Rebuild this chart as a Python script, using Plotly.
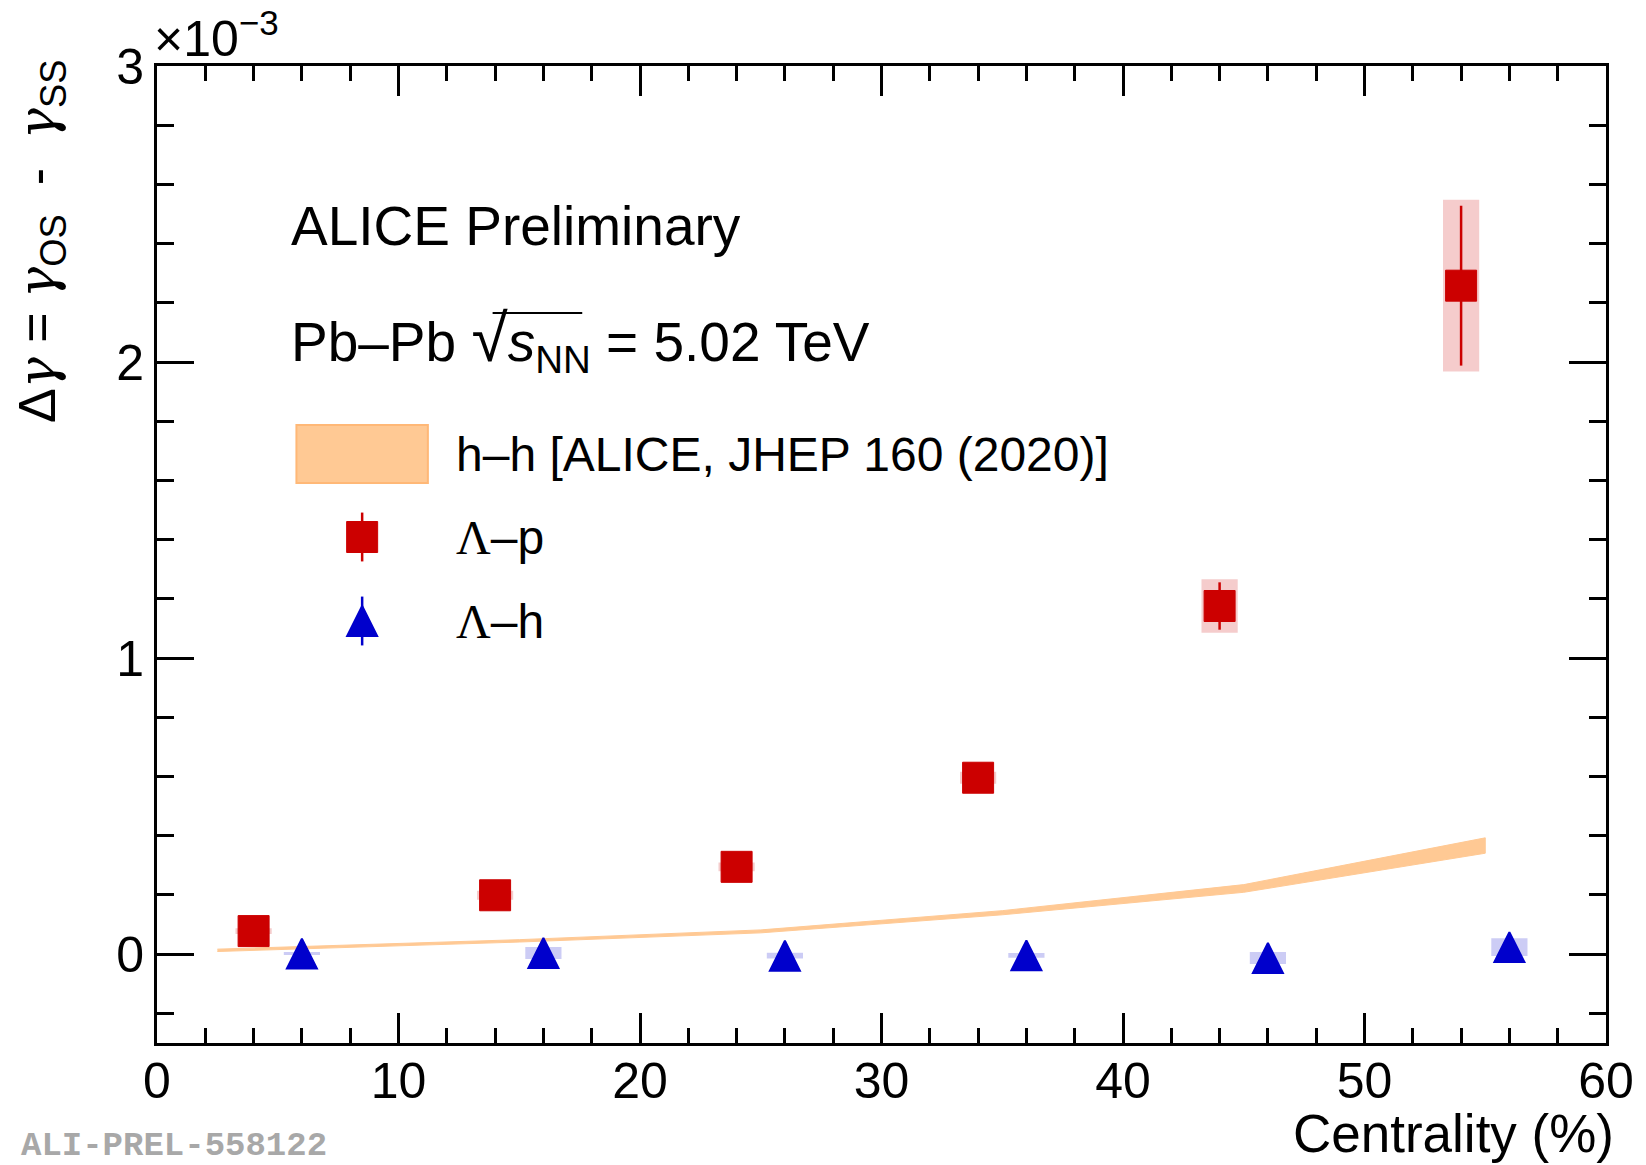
import plotly.graph_objects as go

# ---------------- data (values in units of 1e-3) ----------------
cent_hh = [2.5, 7.5, 15, 25, 35, 45, 55]
dg_hh = [0.013, 0.025, 0.045, 0.077, 0.140, 0.222, 0.367]
dg_hh_err = [0.004, 0.004, 0.004, 0.005, 0.007, 0.013, 0.026]

cent_lp = [4, 14, 24, 34, 44, 54]
dg_lp = [0.078, 0.199, 0.295, 0.596, 1.176, 2.258]
dg_lp_stat = [0.01, 0.015, 0.02, 0.03, 0.08, 0.27]
dg_lp_sys = [0.01, 0.015, 0.015, 0.02, 0.09, 0.29]

cent_lh = [6, 16, 26, 36, 46, 56]
dg_lh = [0.002, 0.004, -0.005, -0.004, -0.013, 0.024]
dg_lh_stat = [0.005, 0.005, 0.005, 0.005, 0.005, 0.006]
dg_lh_sys = [0.005, 0.02, 0.01, 0.008, 0.02, 0.03]

sys_halfwidth = 0.75

x_ticks = [0, 10, 20, 30, 40, 50, 60]
y_ticks = [0, 1, 2, 3]

# ---------------- layout geometry ----------------
W, H = 1646, 1165
L, R, T, B = 157, 1612, 66, 1043


def px(p):
    return (p - L) / (R - L)


def py(p):
    return (B - p) / (B - T)


RED = "#CC0000"
BLUE = "#0000CC"
ORANGE = "#FFC994"
FONT = "Liberation Sans"
SERIF = "DejaVu Serif"

TRI = dict(symbol="arrow-down", angle=180, standoff=15, size=30, color=BLUE,
           line=dict(color=BLUE, width=2))
SQ = dict(symbol="square", size=31, color=RED, line=dict(color=RED, width=1))

fig = go.Figure()

# h-h band
upper = [v + e for v, e in zip(dg_hh, dg_hh_err)]
lower = [v - e for v, e in zip(dg_hh, dg_hh_err)]
fig.add_trace(go.Scatter(x=cent_hh + cent_hh[::-1], y=upper + lower[::-1],
                         fill="toself", fillcolor=ORANGE, mode="lines",
                         line=dict(color=ORANGE, width=1), hoverinfo="skip",
                         showlegend=False))

# systematic boxes
fig.add_trace(go.Bar(x=cent_lp, y=[2 * s for s in dg_lp_sys],
                     base=[v - s for v, s in zip(dg_lp, dg_lp_sys)],
                     width=2 * sys_halfwidth, marker=dict(color="rgba(204,0,0,0.2)", line=dict(width=0)),
                     showlegend=False, hoverinfo="skip"))
fig.add_trace(go.Bar(x=cent_lh, y=[2 * s for s in dg_lh_sys],
                     base=[v - s for v, s in zip(dg_lh, dg_lh_sys)],
                     width=2 * sys_halfwidth, marker=dict(color="rgba(0,0,204,0.2)", line=dict(width=0)),
                     showlegend=False, hoverinfo="skip"))

# points
fig.add_trace(go.Scatter(x=cent_lp, y=dg_lp, mode="markers", marker=SQ,
                         error_y=dict(type="data", array=dg_lp_stat, color=RED, thickness=2.5, width=0),
                         showlegend=False))
fig.add_trace(go.Scatter(x=cent_lh, y=dg_lh, mode="markers", marker=TRI,
                         error_y=dict(type="data", array=dg_lh_stat, color=BLUE, thickness=2.5, width=0),
                         showlegend=False))

# legend markers on an overlay axis (0..1 = plot area)
fig.add_trace(go.Scatter(x=[px(363)], y=[py(537)], xaxis="x2", yaxis="y2", mode="markers", marker=SQ,
                         error_y=dict(type="constant", value=0.025, color=RED, thickness=2.5, width=0),
                         showlegend=False, hoverinfo="skip"))
fig.add_trace(go.Scatter(x=[px(363)], y=[py(621)], xaxis="x2", yaxis="y2", mode="markers", marker=TRI,
                         error_y=dict(type="constant", value=0.025, color=BLUE, thickness=2.5, width=0),
                         showlegend=False, hoverinfo="skip"))

axis_common = dict(showline=True, linecolor="black", linewidth=3, mirror="ticks",
                   ticks="inside", tickcolor="black", tickwidth=3,
                   showgrid=False, zeroline=False,
                   tickfont=dict(family=FONT, size=50, color="black"))

fig.update_layout(
    width=W, height=H,
    margin=dict(l=L, r=W - R, t=T, b=H - B),
    paper_bgcolor="white", plot_bgcolor="white",
    barmode="overlay", showlegend=False,
    xaxis=dict(range=[0, 60], tickvals=x_ticks, ticklen=30, ticklabelstandoff=-8,
               minor=dict(dtick=2, ticklen=15, tickwidth=3, tickcolor="black", ticks="inside"),
               **axis_common),
    yaxis=dict(range=[-0.3, 3], tickvals=y_ticks, ticklen=37,
               minor=dict(dtick=0.2, ticklen=17, tickwidth=3, tickcolor="black", ticks="inside"),
               **axis_common),
    xaxis2=dict(range=[0, 1], overlaying="x", visible=False),
    yaxis2=dict(range=[0, 1], overlaying="y", visible=False),
)

# legend band box
fig.add_shape(type="rect", xref="paper", yref="paper",
              x0=px(297), x1=px(429), y0=py(483), y1=py(425),
              fillcolor=ORANGE, line=dict(color="#FFB877", width=2))

G = '<span style="font-family:%s"><i>γ</i></span>' % SERIF
LAM = '<span style="font-family:Liberation Serif">Λ</span>'
SP = "&nbsp;"

ann = []
ann.append(dict(text="ALICE Preliminary", x=px(290), y=py(226), xanchor="left", yanchor="middle",
                font=dict(family=FONT, size=55, color="black")))
ann.append(dict(text='Pb–Pb <span style="font-size:66px">√</span><i>s</i><sub>NN</sub> = 5.02 TeV',
                x=px(290), y=py(341),
                xanchor="left", yanchor="middle", font=dict(family=FONT, size=55, color="black")))
ann.append(dict(text="h–h [ALICE, JHEP 160 (2020)]", x=px(455), y=py(454), xanchor="left", yanchor="middle",
                font=dict(family=FONT, size=48, color="black")))
ann.append(dict(text=LAM + "–p", x=px(455), y=py(537),
                xanchor="left", yanchor="middle", font=dict(family=FONT, size=48, color="black")))
ann.append(dict(text=LAM + "–h", x=px(455), y=py(621),
                xanchor="left", yanchor="middle", font=dict(family=FONT, size=48, color="black")))
ann.append(dict(text="Centrality (%)", x=px(1622), y=py(1133), xanchor="right", yanchor="middle",
                font=dict(family=FONT, size=53, color="black")))
ann.append(dict(text="Δ" + G + " = " + G + "<sub>OS</sub>" + SP + " - " + SP + G + "<sub>SS</sub>",
                x=px(40), y=py(58),
                xanchor="center", yanchor="top", textangle=-90,
                font=dict(family=FONT, size=52, color="black")))
ann.append(dict(text="×10<sup>−3</sup>", x=px(152), y=py(35), xanchor="left", yanchor="middle",
                font=dict(family=FONT, size=50, color="black")))
ann.append(dict(text="<b>ALI-PREL-558122</b>", x=px(18), y=py(1146), xanchor="left", yanchor="middle",
                font=dict(family="Liberation Mono", size=34, color="#A8A8A8")))
for a in ann:
    a.update(xref="paper", yref="paper", showarrow=False)
fig.update_layout(annotations=ann)

# vinculum of the square root
fig.add_shape(type="line", xref="paper", yref="paper", x0=px(494), x1=px(584), y0=py(313), y1=py(313),
              line=dict(color="black", width=2))

fig.write_html("out.html")
